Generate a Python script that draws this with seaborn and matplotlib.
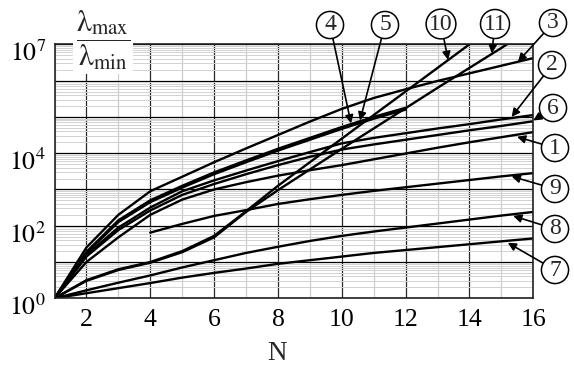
import numpy as np
import pandas as pd
import matplotlib
matplotlib.use("Agg")
import matplotlib.pyplot as plt
import matplotlib.ticker as mticker
from matplotlib.transforms import ScaledTranslation
import seaborn as sns

# ---------------- data (log10 of lambda_max / lambda_min) ----------------
N_full = list(range(1, 17))
c1 = [0, 1.00, 1.68, 2.30, 2.72, 3.00, 3.20, 3.38, 3.53, 3.67, 3.83, 3.99, 4.15, 4.30, 4.44, 4.58]
c2 = [0, 1.20, 1.95, 2.50, 2.95, 3.25, 3.52, 3.78, 4.03, 4.27, 4.42, 4.55, 4.68, 4.80, 4.93, 5.05]
c3 = [0, 1.40, 2.30, 2.95, 3.35, 3.75, 4.13, 4.50, 4.87, 5.22, 5.52, 5.76, 5.99, 6.20, 6.41, 6.62]
c6 = [0, 1.15, 1.88, 2.42, 2.85, 3.15, 3.42, 3.67, 3.90, 4.10, 4.24, 4.37, 4.50, 4.63, 4.75, 4.88]
c7 = [0, 0.14, 0.28, 0.42, 0.57, 0.70, 0.82, 0.95, 1.05, 1.15, 1.25, 1.33, 1.41, 1.49, 1.57, 1.65]
c8 = [0, 0.22, 0.43, 0.63, 0.85, 1.05, 1.25, 1.42, 1.58, 1.72, 1.84, 1.95, 2.06, 2.17, 2.28, 2.38]
N_45 = list(range(1, 13))
c4 = [0, 1.25, 2.10, 2.65, 3.05, 3.42, 3.75, 4.07, 4.37, 4.67, 4.95, 5.20]
c5 = [0, 1.28, 2.15, 2.70, 3.10, 3.47, 3.80, 4.12, 4.42, 4.72, 5.00, 5.25]
N_9 = list(range(4, 17))
c9 = [1.81, 2.05, 2.27, 2.43, 2.60, 2.73, 2.85, 2.96, 3.06, 3.16, 3.26, 3.36, 3.45]
N_10 = list(range(1, 15)) + [14.1]
c10 = [0, 0.50, 0.80, 1.00, 1.30, 1.72, 2.40, 3.10, 3.75, 4.40, 5.05, 5.70, 6.35, 7.00, 7.07]
N_11 = list(range(1, 16)) + [15.3]
c11 = [0, 0.48, 0.78, 0.98, 1.27, 1.68, 2.38, 2.98, 3.55, 4.12, 4.68, 5.24, 5.80, 6.35, 6.90, 7.07]

series = {"1": (N_full, c1), "2": (N_full, c2), "3": (N_full, c3), "4": (N_45, c4),
          "5": (N_45, c5), "6": (N_full, c6), "7": (N_full, c7), "8": (N_full, c8),
          "9": (N_9, c9), "10": (N_10, c10), "11": (N_11, c11)}

x_ticks = [2, 4, 6, 8, 10, 12, 14, 16]
y_label_exps = [0, 2, 4, 7]

# label (circle centre in figure pixels from top-left) and arrow tip (N, log10 value)
labels = {
    "4": ((330, 25), (10.29, 4.82)),
    "5": ((385, 25), (10.57, 4.90)),
    "10": ((441, 24), (13.33, 6.57)),
    "11": ((495, 24), (14.70, 6.75)),
    "3": ((553, 23), (15.52, 6.52)),
    "2": ((552, 65), (15.32, 5.00)),
    "6": ((553, 108), (16.00, 4.90)),
    "1": ((555, 148), (15.49, 4.45)),
    "9": ((555, 189), (15.32, 3.36)),
    "8": ((555, 229), (15.37, 2.27)),
    "7": ((555, 270), (15.20, 1.53)),
}

rows = []
for name, (xs, ls) in series.items():
    for x, l in zip(xs, ls):
        rows.append({"curve": name, "N": x, "ratio": 10 ** l})
df = pd.DataFrame(rows)

# ---------------- figure ----------------
sns.set_theme(style="white")
plt.rcParams["font.family"] = ["Liberation Serif", "DejaVu Serif"]
plt.rcParams["mathtext.fontset"] = "stix"

W, H = 574, 367
fig = plt.figure(figsize=(W / 100, H / 100), dpi=100)
ax = fig.add_axes([54.5 / W, 1 - 298.3 / H, (533.3 - 54.5) / W, (298.3 - 44.3) / H])

sns.lineplot(data=df, x="N", y="ratio", units="curve", estimator=None, sort=False,
             color="black", lw=1.7, ax=ax, legend=False)

ax.set_yscale("log")
ax.set_xlim(1, 16)
ax.set_ylim(1, 1e7)

# grid
ax.set_axisbelow(True)
ax.xaxis.set_major_locator(mticker.FixedLocator(x_ticks))
ax.xaxis.set_minor_locator(mticker.FixedLocator([1, 3, 5, 7, 9, 11, 13, 15]))
ax.yaxis.set_major_locator(mticker.FixedLocator([10.0 ** k for k in range(8)]))
ax.yaxis.set_minor_locator(mticker.LogLocator(base=10, subs=np.arange(2, 10), numticks=30))
ax.yaxis.set_minor_formatter(mticker.NullFormatter())
ax.set_yticklabels([f"$10^{{{k}}}$" if k in y_label_exps else "" for k in range(8)])
ax.set_xticklabels([str(v) for v in x_ticks])

ax.grid(which="major", axis="y", color="black", lw=0.9)
ax.grid(which="minor", axis="y", color="#d2d2d2", lw=0.7)
ax.grid(which="major", axis="x", color="#2a2a2a", lw=0.9)
ax.grid(which="minor", axis="x", color="#cccccc", lw=0.9)

for s in ax.spines.values():
    s.set_color("#222222")
    s.set_linewidth(1.2)

ax.tick_params(axis="both", which="major", direction="out", length=4, width=0.8,
               colors="#222222", labelcolor="black", labelsize=18.5)
ax.tick_params(axis="both", which="minor", direction="out", length=3, width=0.6, colors="#222222")
ax.tick_params(axis="y", which="major", pad=2)
ax.tick_params(axis="x", which="major", pad=4)

offset = ScaledTranslation(0, -0.17, fig.dpi_scale_trans)
for lab in ax.get_yticklabels():
    lab.set_verticalalignment("baseline")
    lab.set_transform(lab.get_transform() + offset)

ax.set_xlabel("N", fontsize=19.5)
ax.set_ylabel("")
ax.xaxis.set_label_coords((277 - 54.5) / (533.3 - 54.5), -(341 - 298.3) / (298.3 - 44.3))

# y-axis quantity as a fraction with a white background
fig.text(103 / W, 1 - 40 / H, r"$\dfrac{\mathrm{λ}_{\mathrm{max}}}{\mathrm{λ}_{\mathrm{min}}}$",
         fontsize=21.5, ha="center", va="center",
         bbox=dict(boxstyle="square,pad=0.08", fc="white", ec="none"))

# circled curve numbers with arrows
for name, ((px, py), (tn, tl)) in labels.items():
    ax.annotate(name, xy=(tn, 10 ** tl), xycoords="data",
                xytext=(px, H - py), textcoords="figure pixels",
                ha="center", va="center", fontsize=17, annotation_clip=False,
                bbox=dict(boxstyle="circle,pad=0.13", fc="white", ec="black", lw=1.1),
                arrowprops=dict(arrowstyle="-|>", color="black", lw=1.2,
                                mutation_scale=12, shrinkA=0, shrinkB=0))

fig.savefig("out.png", dpi=100, facecolor="white")
